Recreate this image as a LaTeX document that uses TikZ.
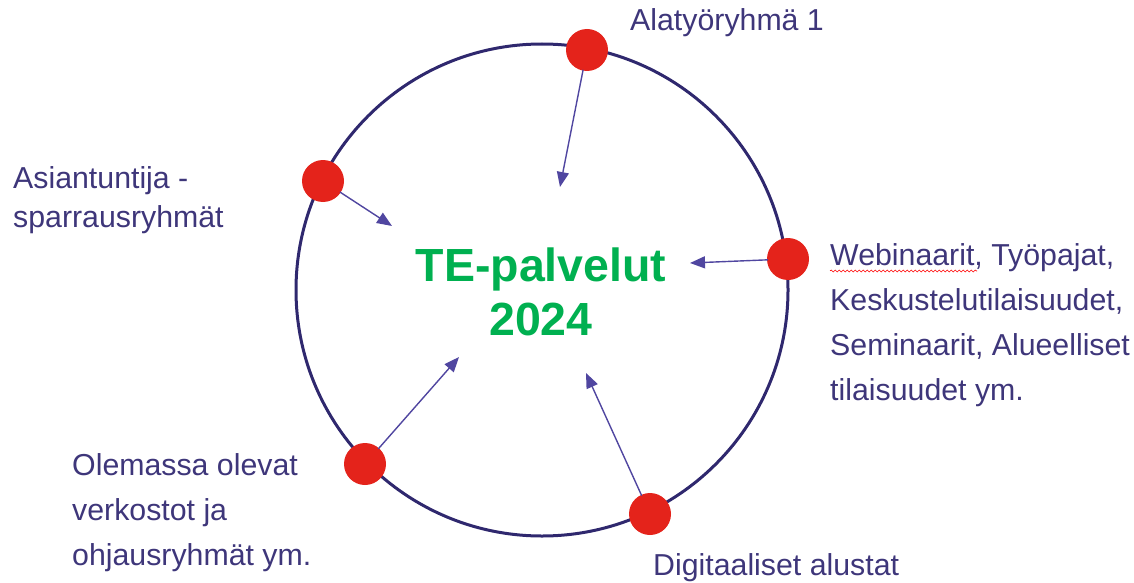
\documentclass[tikz,border=0pt]{standalone}
\usepackage{fontspec}
\setmainfont{Liberation Sans}
\usetikzlibrary{arrows.meta,decorations.pathmorphing}
\definecolor{ringblue}{RGB}{47,40,110}
\definecolor{arrowblue}{RGB}{80,70,160}
\definecolor{labelblue}{RGB}{62,54,122}
\definecolor{dotred}{RGB}{228,35,27}
\definecolor{tegreen}{RGB}{0,176,80}
\tikzset{
    dot/.style={circle, fill=dotred, inner sep=0pt, minimum size=42pt},
    feed/.style={draw=arrowblue, line width=1.4pt,
        -{Triangle[length=15pt,width=12pt]}, shorten <=-1pt},
    label/.style={text=labelblue, inner sep=0pt, align=left, anchor=base west,
        font=\fontsize{30.3}{44.7}\selectfont},
}

\begin{document}
\begin{tikzpicture}[x=1pt,y=-1pt]
\useasboundingbox (0,0) rectangle (1134,583);
\draw[ringblue, line width=3pt] (542,290) circle (246);
\node[dot] (top)    at (587,50)  {};
\node[dot] (expert) at (323,181) {};
\node[dot] (events) at (788,259) {};
\node[dot] (netw)   at (365,464) {};
\node[dot] (digi)   at (650,514) {};
\coordinate (top-in)    at (560,187);
\coordinate (expert-in) at (392,226);
\coordinate (events-in) at (690,263);
\coordinate (netw-in)   at (459,357);
\coordinate (digi-in)   at (586,373);
\draw[feed] (top) -- (top-in);
\draw[feed] (expert) -- (expert-in);
\draw[feed] (events) -- (events-in);
\draw[feed] (netw) -- (netw-in);
\draw[feed] (digi) -- (digi-in);
\node[text=tegreen, inner sep=0pt, align=center, anchor=base,
    font=\fontsize{46.5}{54}\selectfont\bfseries] (title) at (541,335)
    {TE-palvelut\\2024};
\node[label] (sub)  at (630,31)  {Alatyöryhmä 1};
\node[label, font=\fontsize{30.3}{39}\selectfont]
    (spar) at (13,227) {Asiantuntija -\\sparrausryhmät};
\node[label] (web)  at (830,400)
    {Webinaarit, Työpajat,\\Keskustelutilaisuudet,\\Seminaarit, Alueelliset\\tilaisuudet ym.};
\node[label] (ole)  at (72,565)
    {Olemassa olevat\\verkostot ja\\ohjausryhmät ym.};
\node[label] (dig)  at (653,575) {Digitaaliset alustat};
\draw[red, line width=0.6pt, decorate,
    decoration={snake, amplitude=1pt, segment length=4pt}]
    ([yshift=129pt]web.base west) -- ++(147,0);
\end{tikzpicture}
\end{document}
